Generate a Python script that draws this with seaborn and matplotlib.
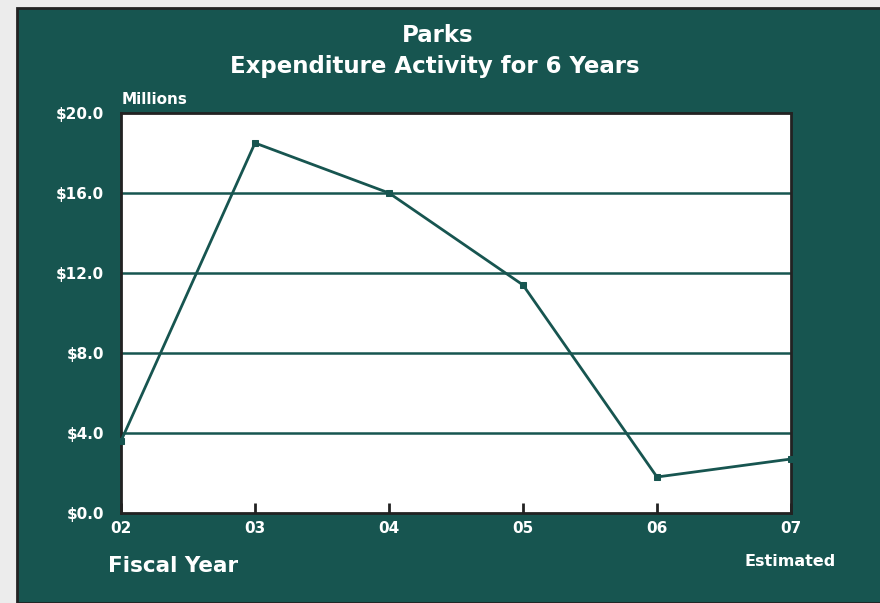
import matplotlib
matplotlib.use("Agg")
import matplotlib.pyplot as plt
from matplotlib.patches import Rectangle
import pandas as pd
import seaborn as sns

# data (millions of dollars)
years = ["02", "03", "04", "05", "06", "07"]
spend = [3.6, 18.5, 16.0, 11.4, 1.8, 2.7]
yticks = [0, 4, 8, 12, 16, 20]

teal = "#175550"
dark = "#222222"

df = pd.DataFrame({"year": years, "spend": spend})

sns.set_style("white")
plt.rcParams["font.family"] = ["DejaVu Sans"]
plt.rcParams["font.weight"] = "bold"

fig = plt.figure(figsize=(8.8, 6.03), dpi=100)
fig.patch.set_facecolor("#ececec")
fig.patches.append(Rectangle((17 / 880, 0), 1, (603 - 8) / 603, transform=fig.transFigure,
                             facecolor=teal, edgecolor=dark, linewidth=2, zorder=-5))

ax = fig.add_axes([121 / 880, 90 / 603, 670 / 880, 400 / 603])
ax.set_zorder(2)
ax.set_facecolor("white")

sns.lineplot(x="year", y="spend", data=df, ax=ax, color=teal, linewidth=2,
             marker="s", markersize=5, markeredgecolor=teal, sort=False, clip_on=False,
             zorder=3)

ax.set_xlim(0, len(years) - 1)
ax.set_ylim(0, 20)
ax.set_yticks(yticks)
ax.set_yticklabels([f"${v:.1f}" for v in yticks])
ax.set_xticks(range(len(years)))
ax.set_xticklabels(years)
for v in yticks[1:-1]:
    ax.axhline(v, color=teal, linewidth=1.8, zorder=1)

ax.tick_params(axis="x", bottom=True, direction="in", length=7, width=2, color=dark,
               pad=6, labelsize=11, labelcolor="white")
ax.tick_params(axis="y", left=False, length=0, pad=12, labelsize=11, labelcolor="white")
for lab in ax.get_xticklabels() + ax.get_yticklabels():
    lab.set_fontweight("bold")
for s in ax.spines.values():
    s.set_color(dark)
    s.set_linewidth(2)
ax.set_xlabel("")
ax.set_ylabel("")

fig.text(438 / 880, 1 - 35 / 603, "Parks", ha="center", va="center",
         color="white", fontsize=16.5, fontweight="bold")
fig.text(435 / 880, 1 - 67 / 603, "Expenditure Activity for 6 Years", ha="center",
         va="center", color="white", fontsize=16.5, fontweight="bold")
fig.text(122 / 880, 1 - 99 / 603, "Millions", ha="left", va="center",
         color="white", fontsize=11, fontweight="bold")
fig.text(108 / 880, 1 - 566 / 603, "Fiscal Year", ha="left", va="center",
         color="white", fontsize=15.5, fontweight="bold")
fig.text(836 / 880, 1 - 561 / 603, "Estimated", ha="right", va="center",
         color="white", fontsize=11.5, fontweight="bold")

fig.savefig("out.png", dpi=100, facecolor=fig.get_facecolor())
